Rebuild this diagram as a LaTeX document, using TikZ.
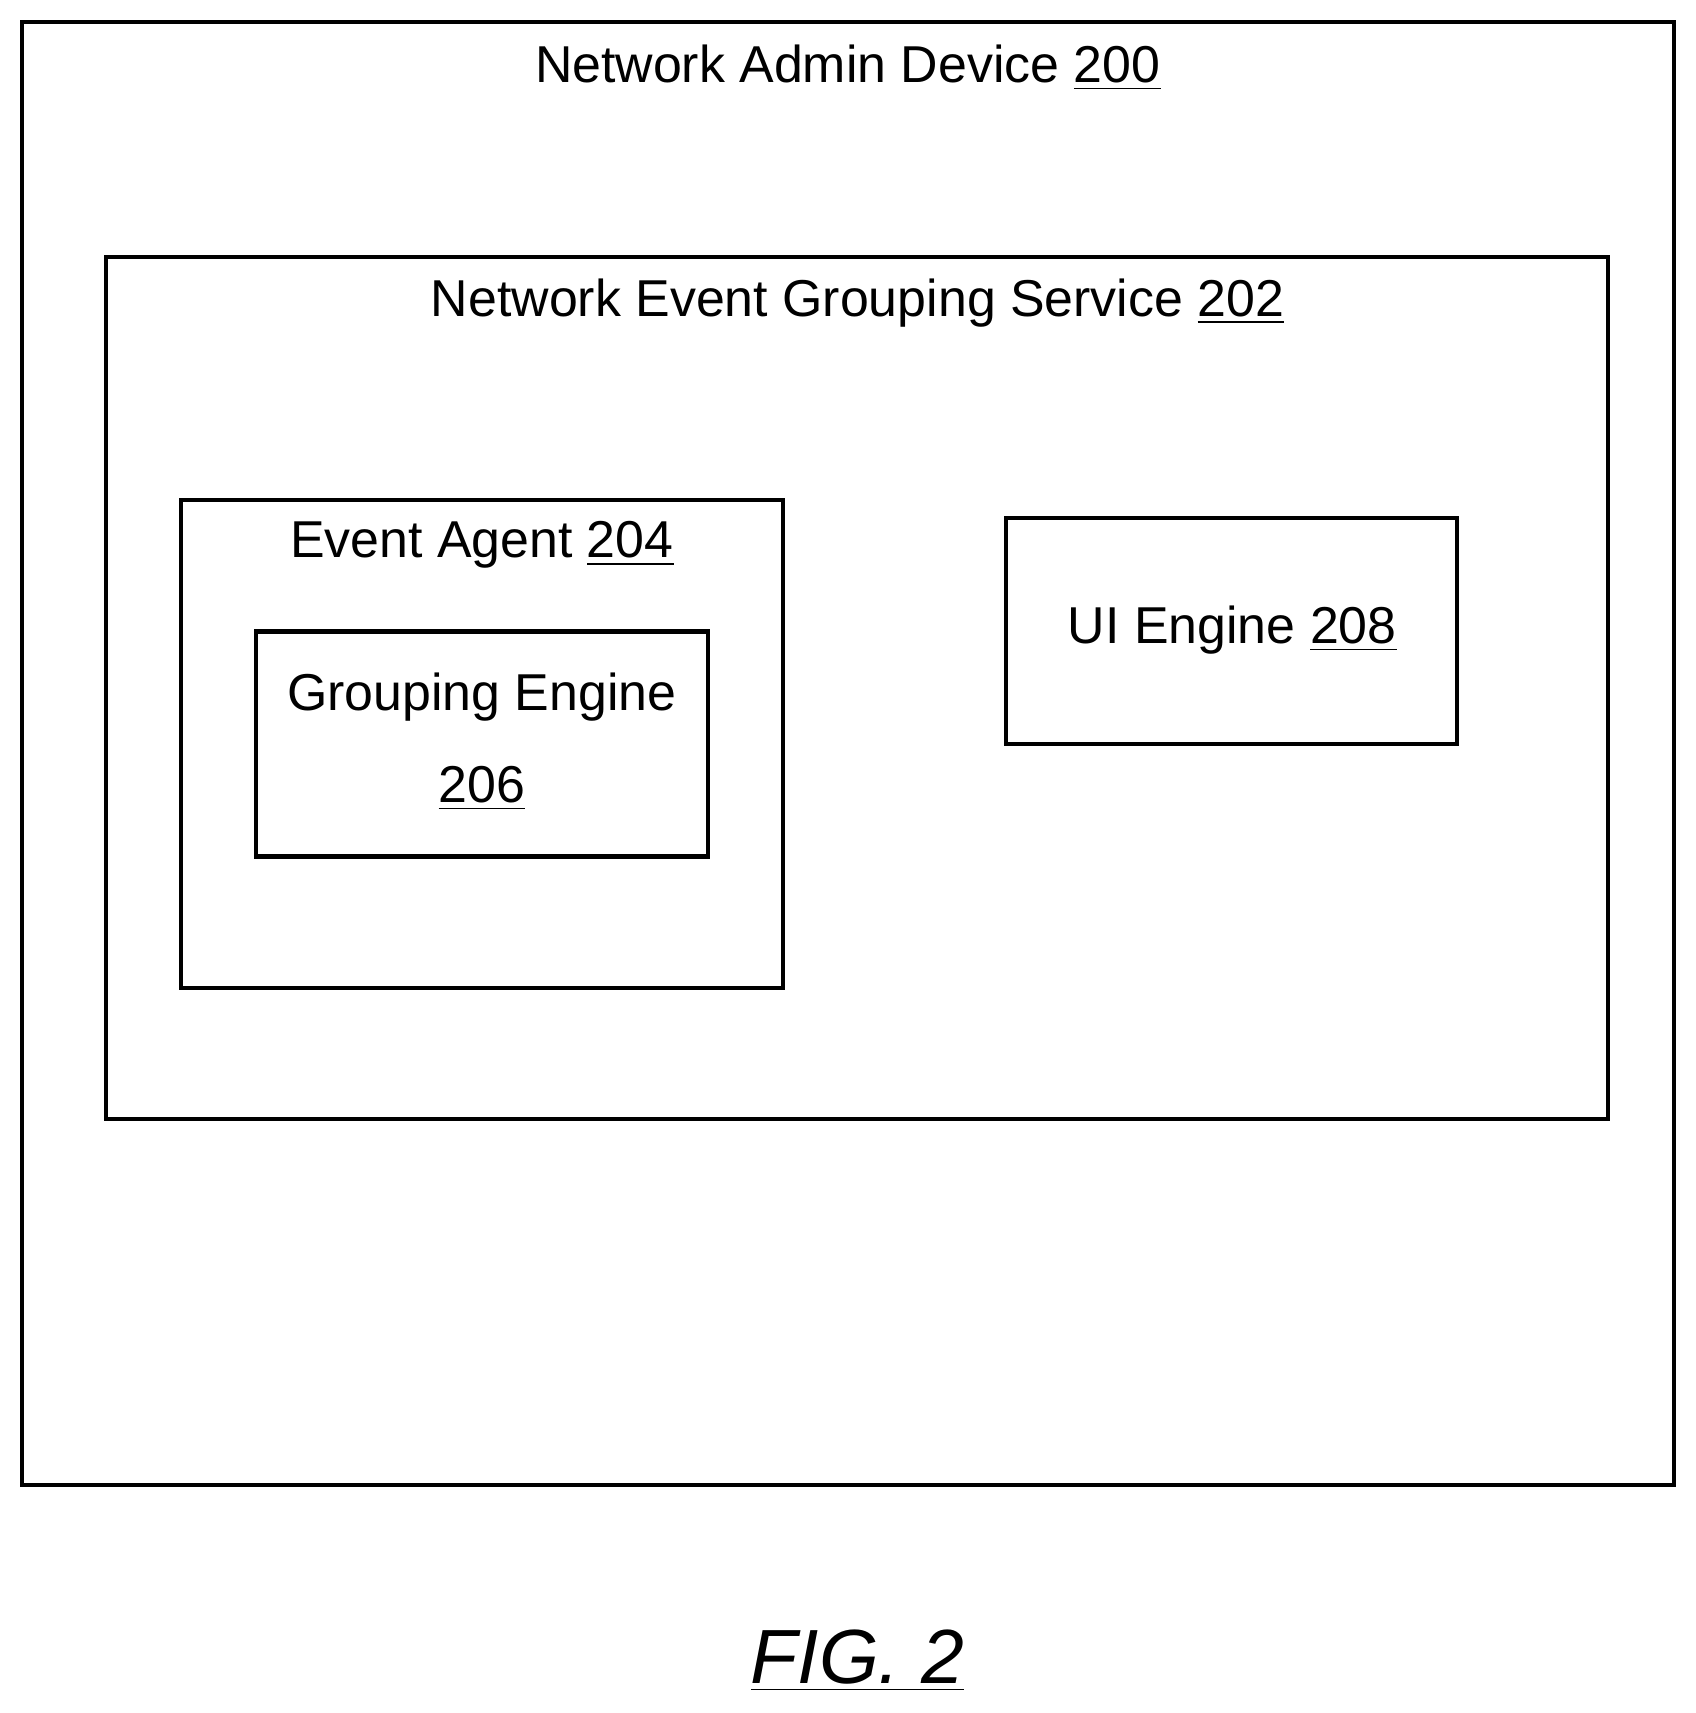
\documentclass[tikz,border=0pt]{standalone}
\usepackage{fontspec}
\setmainfont{Liberation Sans}
\begin{document}
\begin{tikzpicture}[x=0.01cm,y=-0.01cm,
  box/.style={draw=black,line width=1.1pt},
  lbl/.style={font=\fontsize{13.5}{16}\selectfont,align=center,inner sep=0pt}]
\useasboundingbox (0,0) rectangle (1552,1568);
\draw[box] (20,20) rectangle (1532,1359);
\draw[box] (97,235) rectangle (1472,1024);
\draw[box] (166,458) rectangle (717,904);
\draw[box] (234,578) rectangle (648,784);
\draw[box] (921,474) rectangle (1334,681);
\node[lbl] (t200) at (776,62) {Network Admin Device \underline{200}};
\node[lbl] (t202) at (785,277) {Network Event Grouping Service \underline{202}};
\node[lbl] (t204) at (441,499) {Event Agent \underline{204}};
\node[lbl] (t206) at (441,679) {Grouping Engine\\[8pt]\underline{206}};
\node[lbl] (t208) at (1128,577) {UI Engine \underline{208}};
\node[lbl,font=\fontsize{20}{24}\selectfont\itshape] (fig) at (785,1520) {\underline{FIG. 2}};
\end{tikzpicture}
\end{document}
